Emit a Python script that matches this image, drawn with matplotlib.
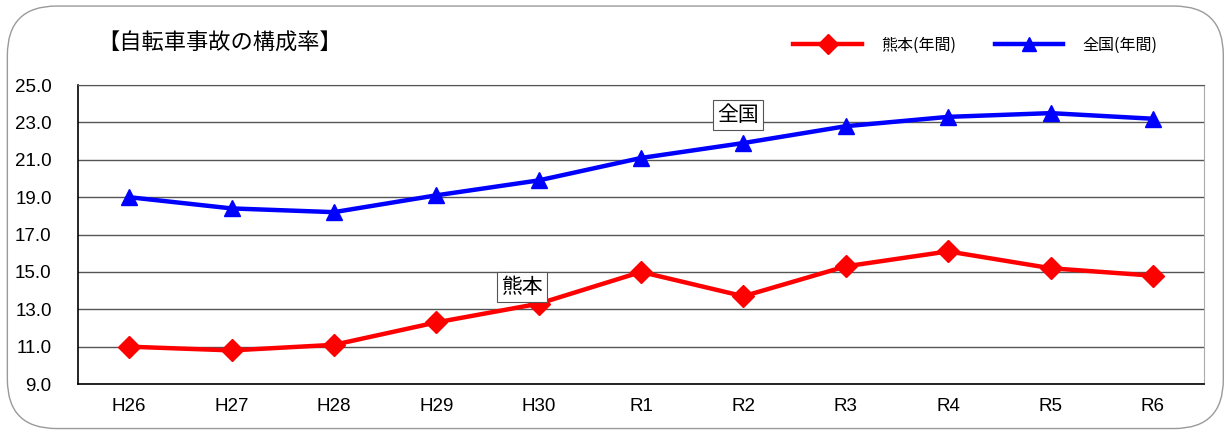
import matplotlib
matplotlib.use("Agg")
import matplotlib.pyplot as plt
from matplotlib.patches import FancyBboxPatch
from matplotlib.lines import Line2D

plt.rcParams['font.family'] = ['Noto Sans CJK JP', 'DejaVu Sans']

years = ["H26", "H27", "H28", "H29", "H30", "R1", "R2", "R3", "R4", "R5", "R6"]
kumamoto = [11.0, 10.8, 11.1, 12.3, 13.3, 15.0, 13.7, 15.3, 16.1, 15.2, 14.8]
zenkoku = [19.0, 18.4, 18.2, 19.1, 19.9, 21.1, 21.9, 22.8, 23.3, 23.5, 23.2]
yticks = [9.0, 11.0, 13.0, 15.0, 17.0, 19.0, 21.0, 23.0, 25.0]

fig = plt.figure(figsize=(12.27, 4.32), dpi=100)
# rounded outer frame
fig.patches.append(FancyBboxPatch((0.006, 0.008), 0.991, 0.978,
                                  boxstyle="round,pad=0,rounding_size=0.04",
                                  transform=fig.transFigure, fill=False,
                                  edgecolor="#9a9a9a", linewidth=1.0,
                                  mutation_aspect=12.27/4.32))

ax = fig.add_axes([0.0636, 0.111, 0.9177, 0.692])
x = list(range(len(years)))
ax.plot(x, kumamoto, color="#ff0000", linewidth=3.2, marker="D", markersize=11,
        label="熊本(年間)", zorder=3)
ax.plot(x, zenkoku, color="#0000ff", linewidth=3.2, marker="^", markersize=12,
        label="全国(年間)", zorder=3)

ax.set_xlim(-0.5, len(years) - 0.5)
ax.set_ylim(9, 25)
ax.set_yticks(yticks)
ax.set_yticklabels([f"{v:.1f}" for v in yticks], fontsize=13.5, family=['Liberation Sans'])
ax.set_xticks(x)
ax.set_xticklabels(years, fontsize=13.5, family=['Liberation Sans'])
ax.tick_params(axis='both', length=0)
ax.tick_params(axis='y', pad=19)
ax.tick_params(axis='x', pad=10)
ax.grid(axis='y', color="#555555", linewidth=1.0)
ax.set_axisbelow(True)
for s in ['left', 'bottom']:
    ax.spines[s].set_color('black')
    ax.spines[s].set_linewidth(1.2)
ax.spines['top'].set_color('#555555')
ax.spines['right'].set_color('#aaaaaa')

bbox = dict(boxstyle="square,pad=0.2", facecolor="white", edgecolor="#555555", linewidth=0.8)
ax.text(5.95, 23.4, "全国", fontsize=15, ha="center", va="center", bbox=bbox, zorder=4)
ax.text(3.84, 14.2, "熊本", fontsize=15, ha="center", va="center", bbox=bbox, zorder=4)

fig.text(0.079, 0.9, "【自転車事故の構成率】", fontsize=16, ha="left", va="center")

handles = [Line2D([0], [0], color="#ff0000", linewidth=3.2, marker="D", markersize=10),
           Line2D([0], [0], color="#0000ff", linewidth=3.2, marker="^", markersize=10)]
fig.legend(handles, ["熊本(年間)", "全国(年間)"], loc="center", bbox_to_anchor=(0.795, 0.895),
           ncol=2, frameon=False, fontsize=11.5, handlelength=4.3, columnspacing=2.4,
           handletextpad=1.2)

fig.savefig("out.png", dpi=100)
